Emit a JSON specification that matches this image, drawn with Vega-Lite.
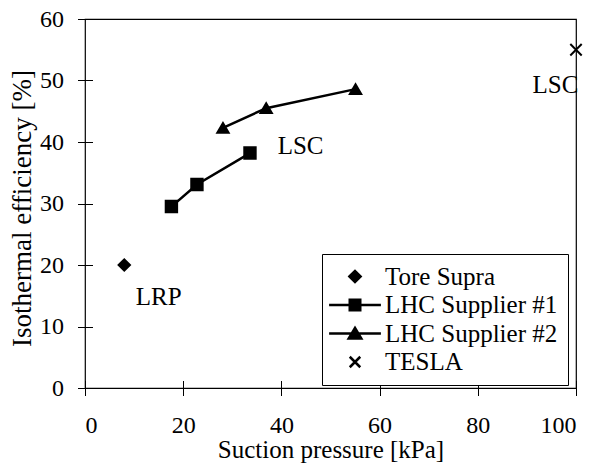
{
  "$schema": "https://vega.github.io/schema/vega-lite/v6.json",
  "width": 491,
  "height": 369,
  "autosize": {"type": "none"},
  "padding": {"left": 85, "top": 19, "right": 27, "bottom": 75},
  "background": "white",
  "config": {
    "font": "Liberation Serif",
    "view": {"stroke": "black", "strokeWidth": 1.2},
    "axis": {
      "domain": false,
      "grid": false,
      "tickColor": "black",
      "tickWidth": 1,
      "tickSize": 15,
      "labelColor": "black",
      "labelFont": "Liberation Serif",
      "labelFontSize": 24,
      "titleFont": "Liberation Serif",
      "titleFontSize": 25,
      "titleFontWeight": "normal",
      "titleColor": "black"
    }
  },
  "datasets": {
    "pts": [
      {"series": "Tore Supra", "pressure": 8, "efficiency": 20},
      {"series": "LHC Supplier #1", "pressure": 17.6, "efficiency": 29.5},
      {"series": "LHC Supplier #1", "pressure": 22.8, "efficiency": 33.1},
      {"series": "LHC Supplier #1", "pressure": 33.6, "efficiency": 38.2},
      {"series": "LHC Supplier #2", "pressure": 28.1, "efficiency": 42.3},
      {"series": "LHC Supplier #2", "pressure": 36.9, "efficiency": 45.5},
      {"series": "LHC Supplier #2", "pressure": 55.1, "efficiency": 48.6},
      {"series": "TESLA", "pressure": 100, "efficiency": 55}
    ],
    "notes": [
      {"label": "LRP", "pressure": 15, "efficiency": 14.8},
      {"label": "LSC", "pressure": 43.9, "efficiency": 39.3},
      {"label": "LSC", "pressure": 95.8, "efficiency": 49.3}
    ]
  },
  "data": {"name": "pts"},
  "encoding": {
    "x": {
      "field": "pressure", "type": "quantitative",
      "scale": {"domain": [0, 100], "nice": false},
      "axis": {"values": [0, 20, 40, 60, 80, 100], "title": "Suction pressure [kPa]", "offset": -7.5, "labelPadding": 18, "titlePadding": 0}
    },
    "y": {
      "field": "efficiency", "type": "quantitative",
      "scale": {"domain": [0, 60], "nice": false},
      "axis": {"values": [0, 10, 20, 30, 40, 50, 60], "title": "Isothermal efficiency [%]", "titleFontSize": 27, "titleY": 189, "offset": -7.5, "labelPadding": 14, "titlePadding": 3}
    }
  },
  "layer": [
    {
      "transform": [{"filter": {"field": "series", "oneOf": ["LHC Supplier #1", "LHC Supplier #2"]}}],
      "mark": {"type": "line", "color": "black", "strokeWidth": 2.5},
      "encoding": {"detail": {"field": "series"}}
    },
    {
      "mark": {"type": "point", "filled": true, "color": "black", "stroke": "black", "strokeWidth": 2, "size": 130, "opacity": 1},
      "encoding": {
        "shape": {
          "field": "series", "type": "nominal",
          "scale": {
            "domain": ["Tore Supra", "LHC Supplier #1", "LHC Supplier #2", "TESLA"],
            "range": ["diamond", "square", "triangle-up", "M-1,-1L1,1M-1,1L1,-1"]
          },
          "legend": null
        }
      }
    },
    {
      "mark": {"type": "point", "filled": false, "color": "black", "strokeWidth": 2.5, "opacity": 0},
      "encoding": {
        "shape": {
          "field": "series", "type": "nominal",
          "scale": {
            "domain": ["Tore Supra", "LHC Supplier #1", "LHC Supplier #2", "TESLA"],
            "range": [
              "M-0.8,0L0,-0.8L0.8,0L0,0.8ZM-0.5,0L0,-0.5L0.5,0L0,0.5ZM-0.2,0L0,-0.2L0.2,0L0,0.2Z",
              "M-3.7,0H3.7M-0.75,-0.75H0.75V0.75H-0.75ZM-0.45,-0.45H0.45V0.45H-0.45ZM-0.15,-0.15H0.15V0.15H-0.15Z",
              "M-3.7,0H3.7M0,-0.8L0.9,0.7H-0.9ZM0,-0.45L0.5,0.4H-0.5ZM0,-0.15L0.15,0.12H-0.15Z",
              "M-0.75,-0.75L0.75,0.75M-0.75,0.75L0.75,-0.75"
            ]
          },
          "legend": {
            "title": null,
            "orient": "none",
            "legendX": 237,
            "legendY": 235,
            "padding": 10,
            "strokeColor": "black",
            "fillColor": "white",
            "symbolSize": 196,
            "symbolOffset": 10.5,
            "symbolOpacity": 1,
            "symbolStrokeColor": "black",
            "symbolStrokeWidth": 2.5,
            "symbolFillColor": "black",
            "labelFont": "Liberation Serif",
            "labelFontSize": 25,
            "labelColor": "black",
            "labelOffset": 17.5,
            "labelLimit": 300,
            "rowPadding": 2.5
          }
        }
      }
    },
    {
      "data": {"name": "notes"},
      "mark": {"type": "text", "font": "Liberation Serif", "fontSize": 25, "color": "black", "align": "center", "baseline": "middle"},
      "encoding": {"text": {"field": "label"}}
    }
  ],
  "resolve": {"scale": {"shape": "independent"}}
}
